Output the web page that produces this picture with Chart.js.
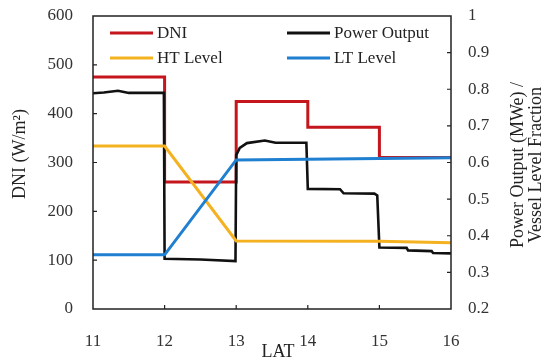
<!DOCTYPE html>
<html>
<head>
<meta charset="utf-8">
<script src="https://cdn.jsdelivr.net/npm/chart.js@4.4.1/dist/chart.umd.min.js"></script>
<style>
  body { margin: 0; background: #fff; }
  canvas { display: block; }
</style>
</head>
<body>
<canvas id="chart" width="549" height="361"></canvas>
<script>
// --- data ---
const dniLat = [11, 12, 12, 13, 13, 14, 14, 15, 15, 16];
const dniVal = [475, 475, 260, 260, 425, 425, 372, 372, 310, 310];

const powerLat = [11, 11.15, 11.35, 11.5, 11.99, 12, 12.5, 12.99, 13, 13.05, 13.15, 13.4, 13.55, 13.98,
                  14, 14.45, 14.5, 14.93, 14.97, 15, 15.38, 15.4, 15.73, 15.75, 16];
const powerVal = [0.789, 0.791, 0.796, 0.79, 0.79, 0.337, 0.335, 0.331, 0.62, 0.64, 0.653, 0.66, 0.654, 0.654,
                  0.528, 0.527, 0.516, 0.515, 0.51, 0.368, 0.367, 0.36, 0.358, 0.353, 0.352];

const htLat = [11, 12, 13, 15, 16];
const htVal = [0.645, 0.645, 0.386, 0.385, 0.381];

const ltLat = [11, 12, 13, 16];
const ltVal = [0.348, 0.348, 0.607, 0.613];

const xTitle = 'LAT';
const yTitle = 'DNI (W/m²)';
const y1Title = ['Power Output (MWe) /', 'Vessel Level Fraction'];

const serif = '"Liberation Serif", "Times New Roman", serif';

function pts(xs, ys) {
  return xs.map((x, i) => ({ x: x, y: ys[i] }));
}

// legend, axis titles, box and inward ticks drawn by hand
const extras = {
  id: 'extras',
  afterDraw(chart) {
    const c = chart.ctx;
    const a = chart.chartArea;
    c.save();

    // plot box
    c.strokeStyle = '#222';
    c.lineWidth = 1.5;
    c.strokeRect(a.left, a.top, a.right - a.left, a.bottom - a.top);

    // inward tick marks
    c.lineWidth = 1.2;
    const tk = 4;
    const sx = chart.scales.x, sy = chart.scales.y, sy1 = chart.scales.y1;
    c.beginPath();
    sx.ticks.forEach(t => {
      if (t.value <= sx.min || t.value >= sx.max) return;
      const p = sx.getPixelForValue(t.value);
      c.moveTo(p, a.bottom); c.lineTo(p, a.bottom - tk);
    });
    sy.ticks.forEach(t => {
      if (t.value <= sy.min || t.value >= sy.max) return;
      const p = sy.getPixelForValue(t.value);
      c.moveTo(a.left, p); c.lineTo(a.left + tk, p);
    });
    sy1.ticks.forEach(t => {
      if (t.value <= sy1.min + 1e-6 || t.value >= sy1.max - 1e-6) return;
      const p = sy1.getPixelForValue(t.value);
      c.moveTo(a.right, p); c.lineTo(a.right - tk, p);
    });
    c.stroke();

    // legend (two columns, inside the plot)
    c.font = '17px ' + serif;
    c.textBaseline = 'middle';
    c.textAlign = 'left';
    const spots = [[110, 33], [287, 33], [110, 58], [287, 58]];
    chart.data.datasets.forEach((ds, i) => {
      const [lx, ly] = spots[i];
      c.strokeStyle = ds.borderColor;
      c.lineWidth = 3;
      c.beginPath(); c.moveTo(lx, ly); c.lineTo(lx + 43, ly); c.stroke();
      c.fillStyle = '#222';
      c.fillText(ds.label, lx + 47, ly + 1);
    });

    // axis titles
    c.fillStyle = '#222';
    c.font = '18px ' + serif;
    c.textAlign = 'center';
    c.fillText(xTitle, 278, 352);

    c.save();
    c.translate(20, 154);
    c.rotate(-Math.PI / 2);
    c.fillText(yTitle, 0, 0);
    c.restore();

    c.save();
    c.translate(518, 165);
    c.rotate(-Math.PI / 2);
    c.fillText(y1Title[0], 0, 0);
    c.fillText(y1Title[1], 0, 18);
    c.restore();

    c.restore();
  }
};

const tickFont = { family: serif, size: 17 };

function fixV(width) {
  return s => { s.width = width; s.paddingTop = 0; s.paddingBottom = 0; };
}

new Chart(document.getElementById('chart'), {
  type: 'line',
  data: {
    datasets: [
      { label: 'DNI', data: pts(dniLat, dniVal), yAxisID: 'y', borderColor: '#c4161c', borderWidth: 3, order: 3 },
      { label: 'Power Output', data: pts(powerLat, powerVal), yAxisID: 'y1', borderColor: '#111111', borderWidth: 2.6, order: 2 },
      { label: 'HT Level', data: pts(htLat, htVal), yAxisID: 'y1', borderColor: '#f4b120', borderWidth: 3, order: 1 },
      { label: 'LT Level', data: pts(ltLat, ltVal), yAxisID: 'y1', borderColor: '#1f7fd0', borderWidth: 3, order: 0 }
    ]
  },
  options: {
    responsive: false,
    animation: false,
    layout: { padding: { top: 16, left: 0, right: 0, bottom: 0 } },
    elements: { point: { radius: 0 }, line: { tension: 0, fill: false } },
    plugins: { legend: { display: false }, tooltip: { enabled: false } },
    scales: {
      x: {
        type: 'linear', min: 11, max: 16,
        ticks: { stepSize: 1, padding: 22, font: tickFont, color: '#333' },
        grid: { display: false, drawTicks: false },
        border: { display: false },
        afterFit: s => { s.height = 52; s.paddingLeft = 0; s.paddingRight = 0; }
      },
      y: {
        position: 'left', min: 0, max: 600,
        ticks: { stepSize: 100, padding: 20, font: tickFont, color: '#333' },
        grid: { display: false, drawTicks: false },
        border: { display: false },
        afterFit: fixV(93)
      },
      y1: {
        position: 'right', min: 0.2, max: 1,
        ticks: { stepSize: 0.1, padding: 17, font: tickFont, color: '#333',
                 callback: v => String(+v.toFixed(1)) },
        grid: { display: false, drawTicks: false },
        border: { display: false },
        afterFit: fixV(98)
      }
    }
  },
  plugins: [extras]
});
</script>
</body>
</html>
